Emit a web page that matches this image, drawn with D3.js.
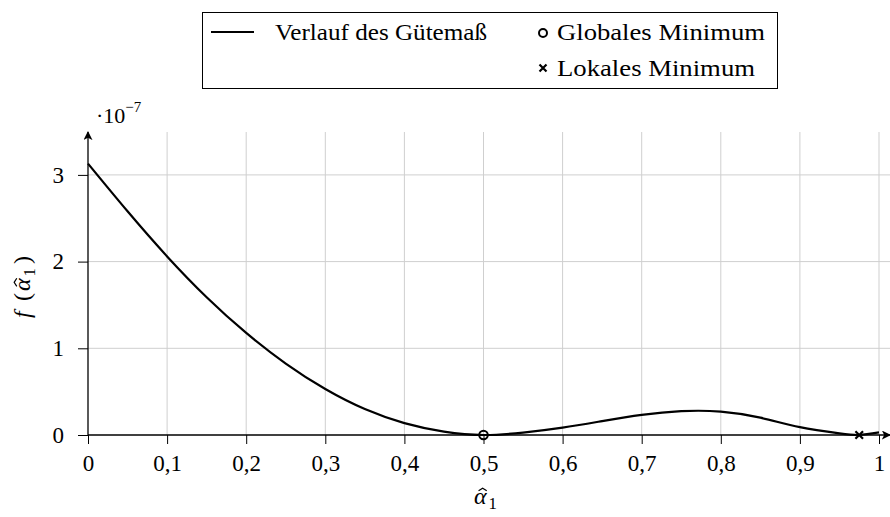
<!DOCTYPE html>
<html><head><meta charset="utf-8">
<script src="https://cdn.jsdelivr.net/npm/d3@7"></script>
<style>
body{margin:0;background:#fff;}
</style></head>
<body><svg id="c" width="890" height="517"></svg>
<script>
// data (values in units of 1e-7)
const alphaVals = [0, 0.05, 0.1, 0.15, 0.2, 0.25, 0.3, 0.35, 0.4, 0.45, 0.5, 0.55, 0.6, 0.65, 0.7, 0.75, 0.8, 0.85, 0.9, 0.95, 0.975, 1.0];
const fVals     = [3.13, 2.58, 2.06, 1.589, 1.177, 0.824, 0.53, 0.299, 0.137, 0.039, 0, 0.028, 0.085, 0.16, 0.232, 0.275, 0.27, 0.2, 0.09, 0.018, 0, 0.03];
const globalMin = [0.5, 0];
const localMin = [0.975, 0];
const xTicks = [0, 0.1, 0.2, 0.3, 0.4, 0.5, 0.6, 0.7, 0.8, 0.9, 1];
const xTickLabels = ["0","0,1","0,2","0,3","0,4","0,5","0,6","0,7","0,8","0,9","1"];
const yTicks = [0, 1, 2, 3];
const legendLabels = ["Verlauf des Gütemaß", "Globales Minimum", "Lokales Minimum"];

const FONT = "'Liberation Serif', serif";
const svg = d3.select("#c");
const x = d3.scaleLinear().domain([0, 1]).range([88, 879]);
const y = d3.scaleLinear().domain([0, 1]).range([435, 348.3]);
const xEnd = 890, yTop = 132;

// grid
const g = svg.append("g");
g.selectAll(".vg").data(xTicks.filter(d => d > 0)).enter().append("line")
  .attr("x1", d => x(d)).attr("x2", d => x(d)).attr("y1", y(0)).attr("y2", yTop)
  .attr("stroke", "#cfcfcf").attr("stroke-width", 1);
g.selectAll(".hg").data(yTicks.filter(d => d > 0)).enter().append("line")
  .attr("x1", x(0)).attr("x2", xEnd).attr("y1", d => y(d)).attr("y2", d => y(d))
  .attr("stroke", "#cfcfcf").attr("stroke-width", 1);

// axes via d3
const xAxis = d3.axisBottom(x).tickValues(xTicks).tickFormat((d, i) => xTickLabels[i]).tickSize(9).tickPadding(10);
const xg = svg.append("g").attr("transform", `translate(0,${y(0)})`).call(xAxis);
xg.select(".domain").remove();
xg.selectAll("line").attr("stroke", "#000");
xg.selectAll("text").attr("font-size", 23).attr("dy", "0.72em");

const yAxis = d3.axisLeft(y).tickValues(yTicks).tickFormat(d3.format("d")).tickSize(10).tickPadding(14);
const yg = svg.append("g").attr("transform", `translate(${x(0)},0)`).call(yAxis);
yg.select(".domain").remove();
yg.selectAll("line").attr("stroke", "#000");
yg.selectAll("text").attr("font-size", 23);

// axis lines with arrows
svg.append("defs").append("marker").attr("id", "arr").attr("viewBox", "0 0 10 10")
  .attr("refX", 9).attr("refY", 5).attr("markerWidth", 9).attr("markerHeight", 9)
  .attr("markerUnits", "userSpaceOnUse").attr("orient", "auto")
  .append("path").attr("d", "M0,0 L10,5 L0,10 L2.5,5 Z").attr("fill", "#000");
svg.append("line").attr("x1", x(0)).attr("x2", xEnd).attr("y1", y(0)).attr("y2", y(0))
  .attr("stroke", "#000").attr("stroke-width", 1.3).attr("marker-end", "url(#arr)");
svg.append("line").attr("x1", x(0)).attr("x2", x(0)).attr("y1", y(0)).attr("y2", yTop)
  .attr("stroke", "#000").attr("stroke-width", 1.3).attr("marker-end", "url(#arr)");

// curve
const pts = alphaVals.map((a, i) => [a, fVals[i]]);
svg.append("path").datum(pts)
  .attr("d", d3.line().x(d => x(d[0])).y(d => y(d[1])).curve(d3.curveNatural))
  .attr("fill", "none").attr("stroke", "#000").attr("stroke-width", 2.2);

// markers
svg.append("circle").attr("cx", x(globalMin[0])).attr("cy", y(globalMin[1])).attr("r", 4.3)
  .attr("fill", "none").attr("stroke", "#000").attr("stroke-width", 2);
const crossPath = (cx, cy, s) => `M${cx - s},${cy - s}L${cx + s},${cy + s}M${cx - s},${cy + s}L${cx + s},${cy - s}`;
svg.append("path").attr("d", crossPath(x(localMin[0]), y(localMin[1]), 3.8))
  .attr("stroke", "#000").attr("stroke-width", 2.2).attr("fill", "none");

// exponent label
const ex = svg.append("text").attr("x", 96).attr("y", 123).attr("font-size", 22);
ex.append("tspan").text("·10");
ex.append("tspan").attr("font-size", 15).attr("dy", -11).text("−7");

// alpha-hat helper: α with a drawn hat and subscript 1, left edge at (x0, baseline)
function alphaHat(sel, x0, base, fs) {
  sel.append("text").attr("x", x0).attr("y", base).attr("font-size", fs).attr("font-style", "italic").text("α");
  const hx = x0 + fs * 0.36, hy = base - fs * 0.66;
  sel.append("path").attr("d", `M${hx - fs * 0.17},${hy + fs * 0.11}L${hx},${hy}L${hx + fs * 0.17},${hy + fs * 0.11}`)
    .attr("fill", "none").attr("stroke", "#000").attr("stroke-width", 1.2);
  sel.append("text").attr("x", x0 + fs * 0.6).attr("y", base + fs * 0.2).attr("font-size", fs * 0.7).text("1");
}

// x axis title
const xl = svg.append("g");
alphaHat(xl, 474, 504, 24);

// y axis title (rotated)
const yl = svg.append("g").attr("transform", "translate(30,318) rotate(-90)");
yl.append("text").attr("x", 0).attr("y", 0).attr("font-size", 24).attr("font-style", "italic").text("f");
yl.append("text").attr("x", 17).attr("y", 0).attr("font-size", 24).text("(");
alphaHat(yl, 27, 0, 24);
yl.append("text").attr("x", 54).attr("y", 0).attr("font-size", 24).text(")");

// legend
const lg = svg.append("g");
lg.append("rect").attr("x", 202.5).attr("y", 12.5).attr("width", 575).attr("height", 76)
  .attr("fill", "#fff").attr("stroke", "#000").attr("stroke-width", 1);
lg.append("line").attr("x1", 211).attr("x2", 254).attr("y1", 32).attr("y2", 32)
  .attr("stroke", "#000").attr("stroke-width", 2.2);
lg.append("circle").attr("cx", 543).attr("cy", 33).attr("r", 4).attr("fill", "none")
  .attr("stroke", "#000").attr("stroke-width", 2);
lg.append("path").attr("d", crossPath(543, 68, 3.5)).attr("stroke", "#000").attr("stroke-width", 2.2);
const lx = [275, 557, 557], ly = [40, 40, 76], lw = [212, 208, 198];
lg.selectAll(".lt").data(legendLabels).enter().append("text")
  .attr("x", (d, i) => lx[i]).attr("y", (d, i) => ly[i]).attr("font-size", 24)
  .attr("textLength", (d, i) => lw[i]).attr("lengthAdjust", "spacingAndGlyphs").text(d => d);

// serif font everywhere
svg.selectAll("text").attr("font-family", FONT).style("font-family", FONT).attr("fill", "#000");
</script></body></html>
